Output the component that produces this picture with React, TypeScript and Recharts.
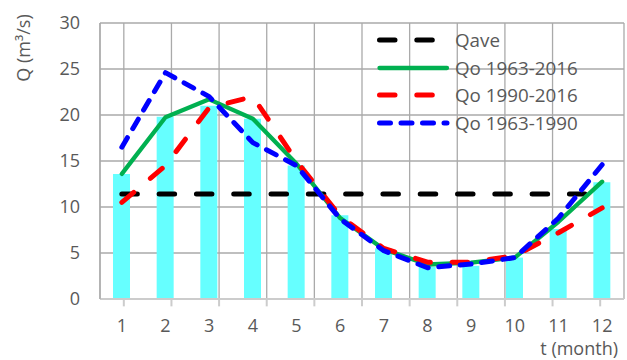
import React from 'react';
import {
  ComposedChart,
  Bar,
  Line,
  XAxis,
  YAxis,
  CartesianGrid,
  Legend,
  ReferenceLine,
} from 'recharts';

// monthly discharge
const MONTHS = [1, 2, 3, 4, 5, 6, 7, 8, 9, 10, 11, 12];
const Q_MONTHLY = [13.6, 19.8, 21.0, 19.6, 14.5, 9.1, 5.5, 3.5, 3.6, 4.5, 7.6, 12.7];
const Q_AVE = 11.4;
const Q_1963_2016 = [13.6, 19.75, 21.7, 19.6, 14.7, 8.8, 5.4, 3.75, 3.95, 4.5, 8.4, 12.75];
const Q_1990_2016 = [10.5, 14.5, 20.8, 22.0, 15.0, 9.0, 5.5, 4.0, 4.0, 4.7, 7.2, 9.9];
const Q_1963_1990 = [16.5, 24.6, 22.0, 17.0, 14.5, 8.7, 5.25, 3.4, 3.8, 4.5, 8.8, 14.6];
const Y_TICKS = [0, 5, 10, 15, 20, 25, 30];
const MONTH_EDGES = [0.5, 1.5, 2.5, 3.5, 4.5, 5.5, 6.5, 7.5, 8.5, 9.5, 10.5, 11.5, 12.5];

const data = MONTHS.map((m, i) => ({
  month: m,
  qm: Q_MONTHLY[i],
  qave: Q_AVE,
  q1: Q_1963_2016[i],
  q2: Q_1990_2016[i],
  q3: Q_1963_1990[i],
}));

const FONT = '"Open Sans", sans-serif';
const TEXT = '#595959';

const SERIES = [
  { key: 'qave', name: 'Qave', color: '#000000', width: 5, dash: '15.5 21.8' },
  { key: 'q1', name: 'Qo 1963-2016', color: '#00b050', width: 4.3, dash: undefined },
  { key: 'q2', name: 'Qo 1990-2016', color: '#ff0000', width: 5, dash: '15.5 21.8' },
  { key: 'q3', name: 'Qo 1963-1990', color: '#0000ff', width: 5, dash: '11 10.5' },
];

function LegendBox() {
  return (
    <div style={{ fontFamily: FONT, fontSize: 18.8, color: TEXT }}>
      {SERIES.map((s) => (
        <div key={s.key} style={{ display: 'flex', alignItems: 'center', height: 27.7 }}>
          <svg width={72} height={10} style={{ overflow: 'visible' }}>
            <line
              x1={2.5}
              x2={70}
              y1={5}
              y2={5}
              stroke={s.color}
              strokeWidth={s.width}
              strokeDasharray={s.dash}
              strokeLinecap="round"
            />
          </svg>
          <span style={{ marginLeft: 6, whiteSpace: 'nowrap' }}>{s.name}</span>
        </div>
      ))}
    </div>
  );
}

export default function App() {
  return (
    <div style={{ position: 'absolute', left: 0, top: 0, width: 627, height: 360, background: '#fff' }}>
      <ComposedChart
        width={627}
        height={360}
        data={data}
        margin={{ top: 23, right: 3, left: 0, bottom: 1 }}
        style={{ fontFamily: FONT }}
      >
        <XAxis xAxisId="edge" type="number" domain={[0.5, 12.5]} ticks={MONTH_EDGES} hide />
        <CartesianGrid xAxisId="edge" stroke="#aaaaaa" strokeWidth={1.3} />
        <XAxis
          dataKey="month"
          height={60}
          tickLine={false}
          tickSize={0}
          tickMargin={20}
          axisLine={{ stroke: '#cccccc', strokeWidth: 2 }}
          tick={{ fill: TEXT, fontSize: 18, fontFamily: FONT }}
          label={({ viewBox }: any) => (
            <text
              x={viewBox.x + viewBox.width - 6}
              y={viewBox.y + 56}
              textAnchor="end"
              fill={TEXT}
              fontSize={18}
              fontFamily={FONT}
            >
              t (month)
            </text>
          )}
        />
        <YAxis
          domain={[0, 30]}
          ticks={Y_TICKS}
          width={100}
          tickLine={false}
          tickSize={0}
          tickMargin={20}
          axisLine={{ stroke: '#aaaaaa', strokeWidth: 1.3 }}
          tick={{ fill: TEXT, fontSize: 18, fontFamily: FONT }}
          label={({ viewBox }: any) => (
            <text
              transform={`translate(${viewBox.x + 30},${viewBox.y + 25}) rotate(-90)`}
              textAnchor="middle"
              fill={TEXT}
              fontSize={18}
              fontFamily={FONT}
            >
              Q (m³/s)
            </text>
          )}
        />
        {MONTH_EDGES.map((e) => (
          <ReferenceLine
            key={e}
            xAxisId="edge"
            segment={[
              { x: e, y: 0 },
              { x: e, y: -0.8 },
            ]}
            ifOverflow="visible"
            stroke="#cccccc"
            strokeWidth={2}
          />
        ))}
        <Bar dataKey="qm" fill="#66ffff" barSize={17} legendType="none" isAnimationActive={false} />
        {SERIES.map((s) => (
          <Line
            key={s.key}
            type="linear"
            dataKey={s.key}
            name={s.name}
            stroke={s.color}
            strokeWidth={s.width}
            strokeDasharray={s.dash}
            strokeLinecap="round"
            strokeLinejoin="round"
            dot={false}
            activeDot={false}
            isAnimationActive={false}
          />
        ))}
        <Legend
          layout="horizontal"
          verticalAlign="middle"
          align="center"
          wrapperStyle={{ top: 26, left: 377, width: 250, height: 112 }}
          content={() => <LegendBox />}
        />
      </ComposedChart>
    </div>
  );
}
